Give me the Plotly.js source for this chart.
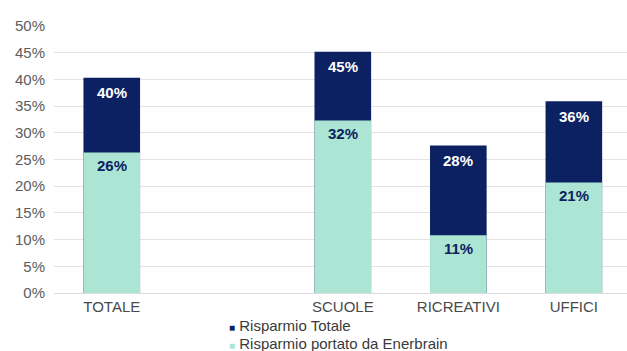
<!DOCTYPE html>
<html>
<head>
<meta charset="utf-8">
<script src="https://cdn.plot.ly/plotly-3.0.1.min.js"></script>
<style>html,body{margin:0;padding:0;background:#fff;}#chart{width:627px;height:351px;}</style>
</head>
<body>
<div id="chart"></div>
<script>
const categories = ["TOTALE", " ", "SCUOLE", "RICREATIVI", "UFFICI"];
const totalCats = ["TOTALE", "SCUOLE", "RICREATIVI", "UFFICI"];
const risparmioTotale = [40.3, 45.2, 27.6, 35.9];
const risparmioEnerbrain = [26.3, 32.3, 10.8, 20.7];
const yTickVals = [0, 5, 10, 15, 20, 25, 30, 35, 40, 45, 50];
const yTickText = ["0%", "5%", "10%", "15%", "20%", "25%", "30%", "35%", "40%", "45%", "50%"];
const seriesNames = ["Risparmio Totale", "Risparmio portato da Enerbrain"];

const NAVY = "#0b2161";
const TEAL = "#ade5d4";
const FONT = "Liberation Sans, Arial, sans-serif";
const seriesColors = [NAVY, TEAL];

const traces = [
  {type: "bar", x: totalCats, y: risparmioTotale, marker: {color: NAVY}, width: 0.49,
   name: seriesNames[0], showlegend: false, hoverinfo: "skip"},
  {type: "bar", x: totalCats, y: risparmioEnerbrain, marker: {color: TEAL}, width: 0.49,
   name: seriesNames[1], showlegend: false, hoverinfo: "skip"}
];

const annotations = [];
totalCats.forEach((c, i) => {
  annotations.push({x: c, y: risparmioTotale[i], xref: "x", yref: "y", showarrow: false,
    text: "<b>" + Math.round(risparmioTotale[i]) + "%</b>", yshift: -15,
    font: {family: FONT, size: 15, color: "#ffffff"}});
  annotations.push({x: c, y: risparmioEnerbrain[i], xref: "x", yref: "y", showarrow: false,
    text: "<b>" + Math.round(risparmioEnerbrain[i]) + "%</b>", yshift: -13,
    font: {family: FONT, size: 15, color: NAVY}});
});

// legend drawn as annotations (compact key like the reference)
const legendY = [-0.123, -0.19];
seriesNames.forEach((n, i) => {
  annotations.push({xref: "paper", yref: "paper", x: 0.302, y: legendY[i], xanchor: "left", yanchor: "middle",
    showarrow: false,
    text: '<span style="color:' + seriesColors[i] + ';font-size:10px">■</span> ' + n,
    font: {family: FONT, size: 15, color: "#3a3a3a"}});
});

const layout = {
  width: 627, height: 351,
  margin: {l: 54, r: 0, t: 26, b: 58},
  paper_bgcolor: "#ffffff", plot_bgcolor: "#ffffff",
  barmode: "overlay",
  font: {family: FONT, size: 15, color: "#555555"},
  xaxis: {type: "category", categoryorder: "array", categoryarray: categories,
    range: [-0.5, 4.46], showgrid: false, zeroline: false, showline: false, ticks: "",
    ticklabelstandoff: 3,
    tickfont: {size: 15, color: "#4a4a4a"}, tickangle: 0, fixedrange: true, automargin: false},
  yaxis: {range: [0, 50], tickvals: yTickVals, ticktext: yTickText, showgrid: true,
    gridcolor: "#e3e3e3", gridwidth: 1, zeroline: true, zerolinecolor: "#dcdcdc", zerolinewidth: 1,
    showline: false, ticks: "", ticklabelstandoff: 8,
    tickfont: {size: 15, color: "#5c5c5c"}, fixedrange: true, automargin: false},
  showlegend: false,
  annotations: annotations
};

Plotly.newPlot("chart", traces, layout, {displayModeBar: false, staticPlot: true});
</script>
</body>
</html>
